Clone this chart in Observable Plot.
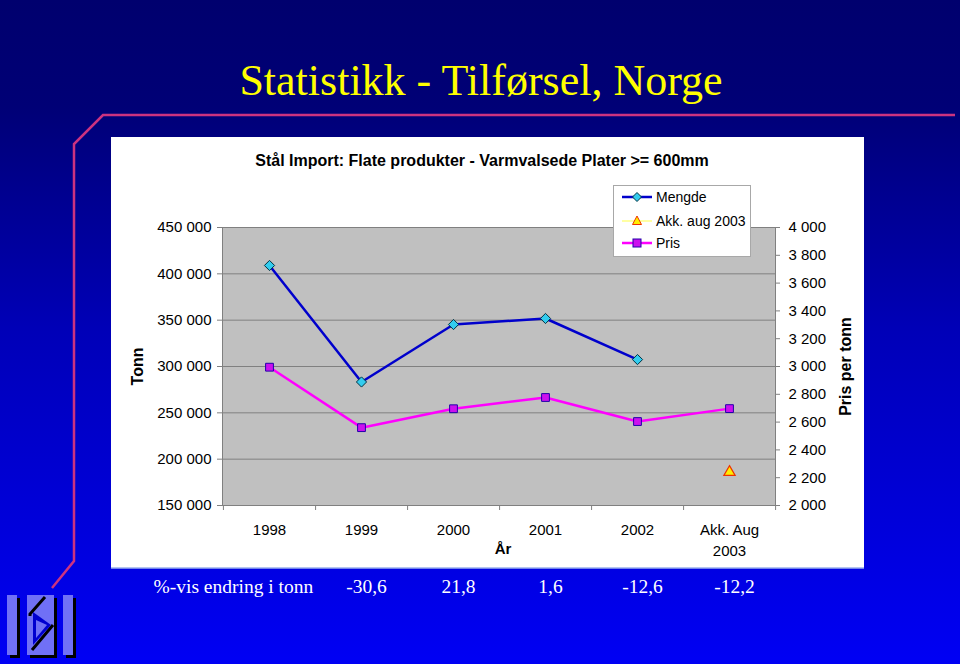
<!DOCTYPE html>
<html><head><meta charset="utf-8">
<script src="https://cdn.jsdelivr.net/npm/d3@7"></script>
<script src="https://cdn.jsdelivr.net/npm/@observablehq/plot@0.6"></script>
<style>
html,body{margin:0;padding:0}
body{width:960px;height:664px;overflow:hidden;position:relative;
  background:linear-gradient(to bottom,#00006e 0%,#000076 16%,#0000b8 50%,#0000f4 100%);
  font-family:"Liberation Sans",Arial,sans-serif;}
#deco,#chart,#legend{position:absolute;left:0;top:0}
</style></head><body>
<svg id="deco" width="960" height="664">
  <path d="M52,588 L74,561 L74,144 L103,115 L955,115" fill="none" stroke="#cc3380" stroke-width="2.5"/>
  <rect x="111" y="137" width="753" height="431" fill="#ffffff"/>
  <line x1="111" x2="864" y1="568" y2="568" stroke="#9ab0ee" stroke-width="1.5"/>
  <text x="481" y="95" text-anchor="middle" font-family="Liberation Serif, Times New Roman, serif" font-size="44" fill="#ffff00">Statistikk - Tilførsel, Norge</text>
  <text x="482" y="166" text-anchor="middle" font-family="Liberation Sans, Arial, sans-serif" font-weight="bold" font-size="16" fill="#000">Stål Import: Flate produkter - Varmvalsede Plater &gt;= 600mm</text>
  <g>
    <rect x="10" y="598" width="10" height="60" fill="#000"/>
    <rect x="7" y="595" width="10" height="60" fill="#7070f6"/>
    <rect x="30" y="598" width="27" height="60" fill="#000"/>
    <rect x="27" y="595" width="27" height="60" fill="#7070f6"/>
    <path d="M45,597 L30,614 L30,616 M53,625 L32,650" stroke="#000" stroke-width="3" fill="none"/>
    <path d="M33,612 L51,625 L33,645 Z" fill="#0000d0"/>
    <path d="M36,620 L47,625 L36,638 Z" fill="#7070f6"/>
    <rect x="66" y="598" width="10" height="60" fill="#000"/>
    <rect x="63" y="595" width="10" height="60" fill="#7070f6"/>
  </g>
</svg>
<div id="chart"></div>
<svg id="legend" width="960" height="664" font-family="Liberation Sans, Arial, sans-serif" font-size="14">
  <rect x="613.5" y="185.5" width="137" height="71" fill="#fff" stroke="#a8a8a8"/>
  <line x1="622" x2="652" y1="197" y2="197" stroke="#0000cc" stroke-width="2.5"/>
  <path d="M637,192.5 L641.5,197 L637,201.5 L632.5,197Z" fill="#33ccee" stroke="#003344"/>
  <text x="656" y="202">Mengde</text>
  <line x1="622" x2="652" y1="221" y2="221" stroke="#ffff66" stroke-width="1.2"/>
  <path d="M637,216 L641.5,224.5 L632.5,224.5Z" fill="#ffee00" stroke="#ee3300"/>
  <text x="656" y="226">Akk. aug 2003</text>
  <line x1="622" x2="652" y1="243" y2="243" stroke="#ff00ff" stroke-width="2.5"/>
  <rect x="633" y="239" width="8" height="8" fill="#cc11ee" stroke="#2200aa"/>
  <text x="656" y="248">Pris</text>
</svg>
<script>
// ---- data ----
const categories = ["1998", "1999", "2000", "2001", "2002", "Akk. Aug 2003"];
const mengde = [409000, 283300, 345300, 351800, 307500];      // tonn, 1998–2002
const akkAug2003 = [186000];                                   // tonn, Akk. aug 2003
const pris = [2995, 2560, 2696, 2777, 2604, 2697];             // pris per tonn
const pctChange = [-30.6, 21.8, 1.6, -12.6, -12.2];            // 1999 .. Akk. Aug 2003
const tonnTicks = [150000, 200000, 250000, 300000, 350000, 400000, 450000];
const prisTicks = [2000, 2200, 2400, 2600, 2800, 3000, 3200, 3400, 3600, 3800, 4000];

// ---- tables built from the arrays ----
const mengdeRows = mengde.map((v, i) => ({cat: categories[i], v}));
const akkRows = akkAug2003.map(v => ({cat: categories[5], v}));
const prisRows = pris.map((p, i) => ({cat: categories[i], p}));
const pctRows = pctChange.map((p, i) => ({cat: categories[i + 1], p}));

// secondary axis mapping: 2000..4000 kr  <->  150000..450000 tonn
const toY = p => 150000 + (p - 2000) * 150;
const toPris = y => 2000 + (y - 150000) / 150;

const loc = d3.formatLocale({decimal: ",", thousands: " ", grouping: [3], currency: ["", ""], minus: "-"});
const fmtInt = loc.format(",d");
const fmtPct = loc.format(".1f");

const W = 960, H = 664, mL = 222, mR = 185, mT = 227, mB = 159;
const step = (W - mL - mR) / categories.length;
const serif = "Liberation Serif, Times New Roman, serif";

const chart = Plot.plot({
  width: W, height: H,
  marginLeft: mL, marginRight: mR, marginTop: mT, marginBottom: mB,
  style: {background: "transparent", fontFamily: "Liberation Sans, Arial, sans-serif", fontSize: "15px", color: "black", overflow: "visible"},
  x: {type: "point", domain: categories, padding: 0.5},
  y: {domain: [150000, 450000]},
  marks: [
    Plot.frame({fill: "#c0c0c0"}),
    Plot.gridY(tonnTicks.slice(1, -1), {stroke: "#808080", strokeOpacity: 1, strokeWidth: 1}),
    Plot.frame({stroke: "#808080"}),
    Plot.axisY(tonnTicks, {anchor: "left", tickFormat: fmtInt, tickSize: 5, tickPadding: 6, stroke: "#808080", fill: "black", fontSize: 15, label: null}),
    Plot.axisY(prisTicks.map(toY), {anchor: "right", tickFormat: v => fmtInt(Math.round(toPris(v))), tickSize: 4, tickPadding: 9, stroke: "#808080", fill: "black", fontSize: 15, label: null}),
    Plot.axisX({tickSize: 0, tickPadding: 15, tickFormat: d => d.replace(" 2003", "\n2003"), lineHeight: 1.4, fill: "black", fontSize: 15, label: null}),
    Plot.axisX(categories, {tickSize: 5, tickFormat: () => "", dx: step / 2, stroke: "#808080", label: null}),
    Plot.axisX(categories.slice(0, 1), {tickSize: 5, tickFormat: () => "", dx: -step / 2, stroke: "#808080", label: null}),
    Plot.text(["År"], {text: d => d, frameAnchor: "bottom", dy: 48, dx: 4, fontWeight: "bold", fontSize: 15}),
    Plot.text(["Tonn"], {text: d => d, frameAnchor: "left", textAnchor: "middle", dx: -85, rotate: -90, fontWeight: "bold", fontSize: 16}),
    Plot.text(["Pris per tonn"], {text: d => d, frameAnchor: "right", textAnchor: "middle", dx: 70, rotate: -90, fontWeight: "bold", fontSize: 16}),
    Plot.line(prisRows, {x: "cat", y: d => toY(d.p), stroke: "#ff00ff", strokeWidth: 2.5}),
    Plot.line(mengdeRows, {x: "cat", y: "v", stroke: "#0000cc", strokeWidth: 2.5}),
    Plot.dot(prisRows, {x: "cat", y: d => toY(d.p), symbol: "square", r: 4.4, fill: "#cc11ee", stroke: "#2200aa", strokeWidth: 1}),
    Plot.dot(mengdeRows, {x: "cat", y: "v", symbol: "diamond2", r: 4.6, fill: "#33ccee", stroke: "#003344", strokeWidth: 1}),
    Plot.dot(akkRows, {x: "cat", y: "v", symbol: "triangle", r: 4.2, fill: "#ffee00", stroke: "#ee3300", strokeWidth: 1.2}),
    Plot.text(["%-vis endring i tonn"], {text: d => d, frameAnchor: "bottom-left", dx: -69, dy: 87, textAnchor: "start", fill: "white", fontFamily: serif, fontSize: 19.5}),
    Plot.text(pctRows, {x: "cat", text: d => fmtPct(d.p), frameAnchor: "bottom", dy: 87, dx: 5, fill: "white", fontFamily: serif, fontSize: 19.5})
  ]
});
document.getElementById("chart").appendChild(chart);
</script>
</body></html>
